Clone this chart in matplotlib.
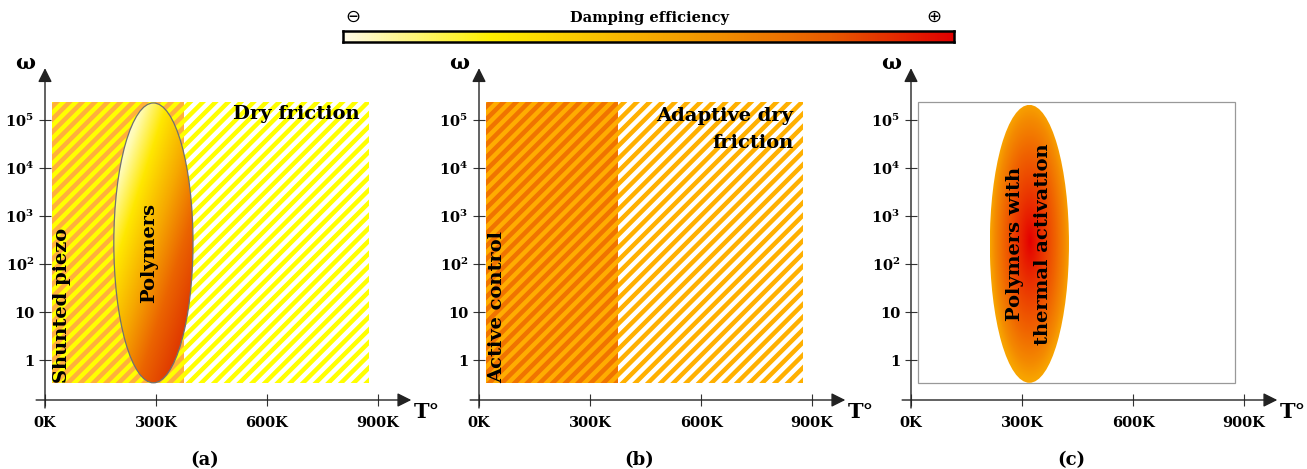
import numpy as np
import matplotlib
matplotlib.use('Agg')
import matplotlib.pyplot as plt
from matplotlib.patches import Rectangle, Ellipse
from matplotlib.colors import LinearSegmentedColormap

plt.rcParams['font.family'] = 'DejaVu Serif'
plt.rcParams['font.weight'] = 'bold'
plt.rcParams['mathtext.fontset'] = 'dejavuserif'

# data: temperature (K) and log10(omega)
temp_ticks = [0, 300, 600, 900]
temp_labels = ['0K', '300K', '600K', '900K']
omega_ticks = [0, 1, 2, 3, 4, 5]
omega_labels = ['1', '10', r'$\mathbf{10^{2}}$', r'$\mathbf{10^{3}}$',
                r'$\mathbf{10^{4}}$', r'$\mathbf{10^{5}}$']

# regions: [T start, T split, T end], [log omega low, high]
region_T = [20, 377, 877]
region_w = [-0.48, 5.37]

# polymers ellipses: center T, center log w, width T, height log w
poly_a = [293, 2.44, 214, 5.83]
poly_c = [320, 2.42, 214, 5.79]

W, H = 1307, 469
PX_K = 0.37      # pixels per kelvin
PX_DEC = 48.0    # pixels per decade
XL = (-40, 1000)
YL = (-1.2, 6.3)
y0_px = 360      # pixel row of omega = 1

fig = plt.figure(figsize=(W / 100, H / 100), dpi=100)


def make_ax(xaxis_px, label):
    left = xaxis_px + XL[0] * PX_K
    top = y0_px - YL[1] * PX_DEC
    w = (XL[1] - XL[0]) * PX_K
    h = (YL[1] - YL[0]) * PX_DEC
    ax = fig.add_axes([left / W, (H - top - h) / H, w / W, h / H])
    ax.set_xlim(*XL)
    ax.set_ylim(*YL)
    ax.patch.set_visible(False)
    xax_y = -40 / PX_DEC
    ax.spines['left'].set_position(('data', 0))
    ax.spines['bottom'].set_position(('data', xax_y))
    for s in ax.spines.values():
        s.set_visible(False)
    ax.set_xticks(temp_ticks, temp_labels)
    ax.set_yticks(omega_ticks, omega_labels)
    ax.tick_params(axis='x', direction='inout', length=8.6, width=0.8,
                   pad=7, labelsize=10.5, color='#333333')
    ax.tick_params(axis='y', direction='inout', length=8.6, width=0.8,
                   pad=3.5, labelsize=10.5, color='#333333')
    arrow = dict(arrowstyle='-|>,head_length=0.6,head_width=0.3',
                 mutation_scale=14, lw=1.0, color='#222222',
                 shrinkA=0, shrinkB=0)
    ax.annotate('', xy=(990, xax_y), xytext=(-24, xax_y), arrowprops=arrow)
    ax.annotate('', xy=(0, 6.08), xytext=(0, -1.0), arrowprops=arrow)
    ax.text(-54, 6.19, 'ω', fontsize=15, ha='center', va='center')
    ax.text(1032, -1.08, 'T°', fontsize=15, ha='center', va='center')
    ax.text(432, -2.08, label, fontsize=13, ha='center', va='center')
    return ax


def striped(ax, x0, x1, bg, fg):
    rect = Rectangle((x0, region_w[0]), x1 - x0, region_w[1] - region_w[0],
                     facecolor=bg, edgecolor='none', zorder=1)
    ax.add_patch(rect)
    xs = np.array([XL[0] - 100, XL[1] + 100])
    for c in np.arange(-700, 700, 12.7):
        ln, = ax.plot(xs, (c + PX_K * xs) / PX_DEC, color=fg, lw=3.2,
                      solid_capstyle='butt', zorder=2)
        ln.set_clip_path(rect)


def gradient_ellipse(ax, e, cmap, kind, edge):
    cx, cy, ew, eh = e
    ell = Ellipse((cx, cy), ew, eh, facecolor='none', edgecolor=edge,
                  lw=0.9 if edge != 'none' else 0, zorder=4)
    ax.add_patch(ell)
    n = 300
    u, v = np.meshgrid(np.linspace(0, 1, n), np.linspace(0, 1, n))
    if kind == 'linear':
        t = np.clip(0.62 * u + 0.7 * v - 0.11, 0, 1)
    else:
        r = np.sqrt(((u - 0.5) * 2) ** 2 + ((v - 0.49) * 2) ** 2)
        t = np.clip(r, 0, 1)
    im = ax.imshow(t, cmap=cmap, vmin=0, vmax=1, origin='upper',
                   extent=[cx - ew / 2, cx + ew / 2, cy - eh / 2, cy + eh / 2],
                   aspect='auto', zorder=3, interpolation='bilinear')
    im.set_clip_path(ell)


lin_cmap = LinearSegmentedColormap.from_list('lin', [
    (0.0, '#ffffff'), (0.12, '#fffbb0'), (0.3, '#ffe800'),
    (0.55, '#f6a800'), (0.78, '#eb6400'), (1.0, '#e03a00')])
rad_cmap = LinearSegmentedColormap.from_list('rad', [
    (0.0, '#e40000'), (0.3, '#ea3000'), (0.65, '#f06400'), (0.88, '#f48a00'),
    (1.0, '#f8a400')])
bar_cmap = LinearSegmentedColormap.from_list('bar', [
    (0.0, '#fffbe8'), (0.24, '#fff000'), (0.45, '#f8b800'),
    (0.6, '#f29400'), (0.8, '#e85a00'), (1.0, '#e00000')])

# (a)
ax_a = make_ax(45, '(a)')
striped(ax_a, region_T[0], region_T[1], '#ffb03c', '#ffff00')
striped(ax_a, region_T[1], region_T[2], '#ffffff', '#ffff00')
gradient_ellipse(ax_a, poly_a, lin_cmap, 'linear', '#707070')
ax_a.text(849, 5.12, 'Dry friction', fontsize=14, ha='right', va='center', zorder=6)
ax_a.text(47, region_w[0], 'Shunted piezo', fontsize=14, rotation=90,
          ha='center', va='bottom', zorder=6)
ax_a.text(281, 2.23, 'Polymers', fontsize=14, rotation=90,
          ha='center', va='center', zorder=6)

# (b)
ax_b = make_ax(479, '(b)')
striped(ax_b, region_T[0], region_T[1], '#f07400', '#ffac00')
striped(ax_b, region_T[1], region_T[2], '#ffffff', '#ffb000')
ax_b.text(849, 4.81, 'Adaptive dry\nfriction', fontsize=14, ha='right',
          va='center', multialignment='right', linespacing=1.65, zorder=6)
ax_b.text(49, region_w[0], 'Active control', fontsize=14, rotation=90,
          ha='center', va='bottom', zorder=6)

# (c)
ax_c = make_ax(911, '(c)')
ax_c.add_patch(Rectangle((region_T[0], region_w[0]), region_T[2] - region_T[0],
                         region_w[1] - region_w[0], facecolor='none',
                         edgecolor='#999999', lw=0.9, zorder=1))
gradient_ellipse(ax_c, poly_c, rad_cmap, 'radial', 'none')
ax_c.text(319, 2.42, 'Polymers with\nthermal activation', fontsize=14,
          rotation=90, ha='center', va='center', multialignment='center',
          linespacing=1.75, zorder=6)

# colour bar
cax = fig.add_axes([343 / W, (H - 42) / H, 611 / W, 11 / H])
cax.imshow(np.linspace(0, 1, 512)[None, :], cmap=bar_cmap, aspect='auto')
cax.set_xticks([])
cax.set_yticks([])
for s in cax.spines.values():
    s.set_linewidth(1.8)
fig.text(650 / W, (H - 18) / H, 'Damping efficiency', fontsize=10.5,
         ha='center', va='center')
fig.text(353 / W, (H - 17) / H, '⊖', fontsize=13, family='DejaVu Sans',
         weight='normal', ha='center', va='center')
fig.text(934 / W, (H - 17) / H, '⊕', fontsize=13, family='DejaVu Sans',
         weight='normal', ha='center', va='center')

fig.savefig('out.png', dpi=100)
